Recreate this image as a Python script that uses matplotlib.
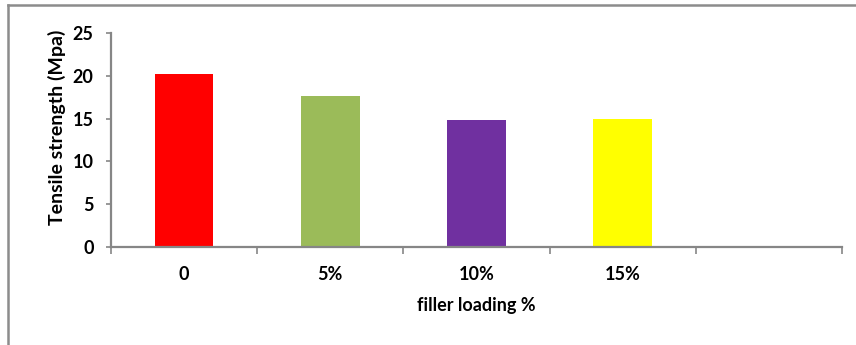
import numpy as np
import matplotlib.pyplot as plt
from matplotlib.lines import Line2D

# tensile strength vs filler loading
categories = ['0', '5%', '10%', '15%', '']
strength = [20.2, 17.6, 14.8, 15.0]
colors = ['#FF0000', '#9BBB59', '#7030A0', '#FFFF00']
yticks = [0, 5, 10, 15, 20, 25]

plt.rcParams['font.family'] = ['Lato', 'DejaVu Sans']
axis_gray = '#868686'
fs = 13
W, H = 856, 345

fig = plt.figure(figsize=(W / 100, H / 100), dpi=100)
ax = fig.add_axes([111 / W, 98.3 / H, 731 / W, 213.4 / H])

x = np.arange(len(strength))
ax.bar(x, strength, width=0.40, color=colors)

ax.set_xlim(-0.5, len(categories) - 0.5)
ax.set_ylim(0, 25)
ax.set_yticks(yticks)
ax.set_yticklabels([str(v) for v in yticks], fontsize=fs, fontweight='bold')

# category boundaries carry the tick marks, labels sit at the centres
ax.set_xticks(np.arange(len(categories) + 1) - 0.5)
ax.set_xticklabels([])
ax.set_xticks(np.arange(len(categories)), minor=True)
ax.set_xticklabels(categories, minor=True, fontsize=fs, fontweight='bold')
ax.tick_params(axis='x', which='major', length=5, width=1.2, color=axis_gray, direction='out')
ax.tick_params(axis='x', which='minor', length=0, pad=14)
ax.tick_params(axis='y', length=3.6, width=1.2, color=axis_gray, pad=9)

for side in ['top', 'right']:
    ax.spines[side].set_visible(False)
for side in ['left', 'bottom']:
    ax.spines[side].set_color(axis_gray)
    ax.spines[side].set_linewidth(1.6)

# axis titles placed in figure pixels
fig.text(476.5 / W, 1 - 305 / H, 'filler loading %', fontsize=fs, fontweight='bold',
         ha='center', va='center')
fig.text(57 / W, 1 - 127 / H, 'Tensile strength (Mpa)', fontsize=14, fontweight='bold',
         rotation=90, ha='center', va='center')

# chart area frame (top and left edges)
fig.add_artist(Line2D([8 / W, 1], [1 - 5 / H, 1 - 5 / H], color='#8c8c8c', lw=1.8))
fig.add_artist(Line2D([8 / W, 8 / W], [0, 1 - 5 / H], color='#8c8c8c', lw=1.8))

fig.savefig('out.png', dpi=100)
